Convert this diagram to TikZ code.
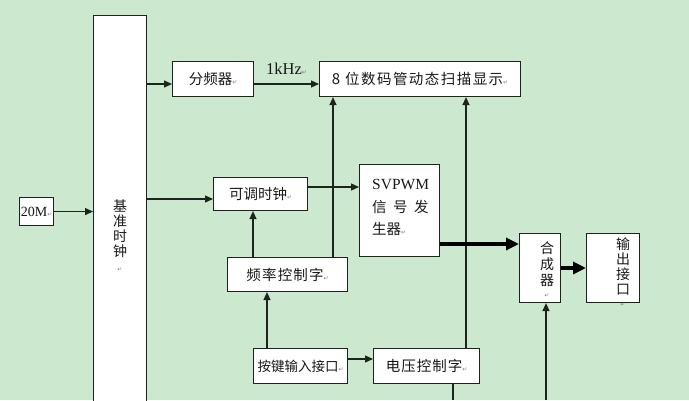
\documentclass[tikz,border=0pt]{standalone}
\usepackage{fontspec}
\setmainfont{Liberation Serif}
\newfontfamily\cjk{Noto Sans CJK SC}
\newfontfamily\dejavu{DejaVu Sans}
\usetikzlibrary{arrows.meta,calc}
\definecolor{bg}{RGB}{204,232,207}
\definecolor{ln}{RGB}{28,36,28}
\definecolor{txt}{RGB}{25,25,25}
\newcommand{\pmark}{{\fontsize{6}{6}\dejavu\color{gray}↵}}
\newcommand{\ls}[1]{\addfontfeature{LetterSpace=#1}}
\begin{document}
\begin{tikzpicture}[x=1pt,y=-1pt,
  box/.style={draw=ln, line width=1.1pt, fill=white, inner sep=0pt, anchor=north west, text=txt},
  cn/.style={font=\fontsize{14.5}{15}\cjk, text=txt},
  conn/.style={draw=ln, line width=1.2pt, -{Triangle[length=8pt,width=7pt]}},
  fat/.style={draw=black, line width=4.5pt, -{Triangle[length=13pt,width=12pt]}},
  plain/.style={draw=ln, line width=1.2pt}]
\useasboundingbox (0,0) rectangle (689,400);
\fill[bg] (0,0) rectangle (689,400);
\clip (0,0) rectangle (689,400);
% boxes
\node[box, minimum width=53pt, minimum height=410pt] (clk) at (93,15) {};
\node[cn, align=center, font=\fontsize{14}{15}\cjk] (clktxt) at (120,236) {基\\准\\时\\钟\\\pmark};
\node[box, minimum width=34pt, minimum height=28pt, font=\fontsize{14}{14}\selectfont] (in20) at (19,197) {20M\pmark};
\node[box, cn, minimum width=81pt, minimum height=35pt] (div) at (172,61) {分频器\pmark};
\node[box, cn, minimum width=201pt, minimum height=35pt] (disp) at (319,61) {{\fontsize{15}{15}\selectfont 8}\hspace{5pt}{\cjk\ls{10}位数码管动态扫描显示}\pmark};
\node[box, cn, minimum width=94pt, minimum height=33pt] (adj) at (213,177) {可调时钟\pmark};
\node[box, minimum width=80pt, minimum height=92pt] (svp) at (359,164) {};
\node[anchor=west, inner sep=0pt, text=txt, font=\fontsize{15.5}{16}\selectfont] (svp1) at (372,184) {SVPWM};
\node[anchor=west, inner sep=0pt, cn] (svp2) at (372,207) {信\hspace{6.5pt}号\hspace{6.5pt}发};
\node[anchor=west, inner sep=0pt, cn] (svp3) at (372,229) {生器\pmark};
\node[box, cn, minimum width=120pt, minimum height=34pt] (fcw) at (227,257) {\ls{8}频率控制字\pmark};
\node[box, cn, minimum width=94pt, minimum height=35pt] (key) at (253,348) {\fontsize{13.5}{14}\selectfont 按键输入接口\pmark};
\node[box, cn, minimum width=106pt, minimum height=35pt] (vcw) at (373,348) {\ls{7}电压控制字\pmark};
\node[box, minimum width=41pt, minimum height=69pt] (syn) at (519,233) {};
\node[cn, align=center, font=\fontsize{14}{16}\cjk] (syntxt) at (547,270) {合\\成\\器\\[-4pt]\pmark};
\node[box, minimum width=53pt, minimum height=69pt] (out) at (586,233) {};
\node[cn, align=center, font=\fontsize{14}{15}\cjk] (outtxt) at (623,272) {输\\出\\接\\口\\[-3pt]\pmark};
% helper coordinates
\coordinate (h84) at (0,84);
\coordinate (h199) at (0,199);
\coordinate (h187) at (0,187);
\coordinate (h359) at (0,359);
\coordinate (h244) at (0,244);
\coordinate (h268) at (0,268);
\coordinate (v253) at (253,0);
\coordinate (v333) at (333,0);
\coordinate (v267) at (267,0);
\coordinate (v466) at (466,0);
\coordinate (v453) at (453,0);
\coordinate (vend) at (453,400);
\coordinate (synin) at (546,400);
% connectors
\draw[conn] (in20.east) -- (in20.east -| clk.west);
\draw[conn] (clk.east |- h84) -- (div.west |- h84);
\draw[conn] (div.east |- h84) -- node[above=6pt, font=\fontsize{16.5}{16}\selectfont, text=txt] (khz) {1kHz\pmark} (disp.west |- h84);
\draw[conn] (clk.east |- h199) -- (adj.west |- h199);
\draw[conn] (adj.east |- h187) -- (svp.west |- h187);
\draw[conn] (fcw.north -| v253) -- (adj.south -| v253);
\draw[conn] (fcw.north -| v333) -- (disp.south -| v333);
\draw[conn] (key.north -| v267) -- (fcw.south -| v267);
\draw[conn] (key.east |- h359) -- (vcw.west |- h359);
\draw[conn] (vcw.north -| v466) -- (disp.south -| v466);
\draw[plain] (vcw.south -| v453) -- (vend);
\draw[conn] (synin) -- (synin |- syn.south);
\draw[fat] (svp.east |- h244) -- (syn.west |- h244);
\draw[fat] (syn.east |- h268) -- (out.west |- h268);
\end{tikzpicture}
\end{document}
